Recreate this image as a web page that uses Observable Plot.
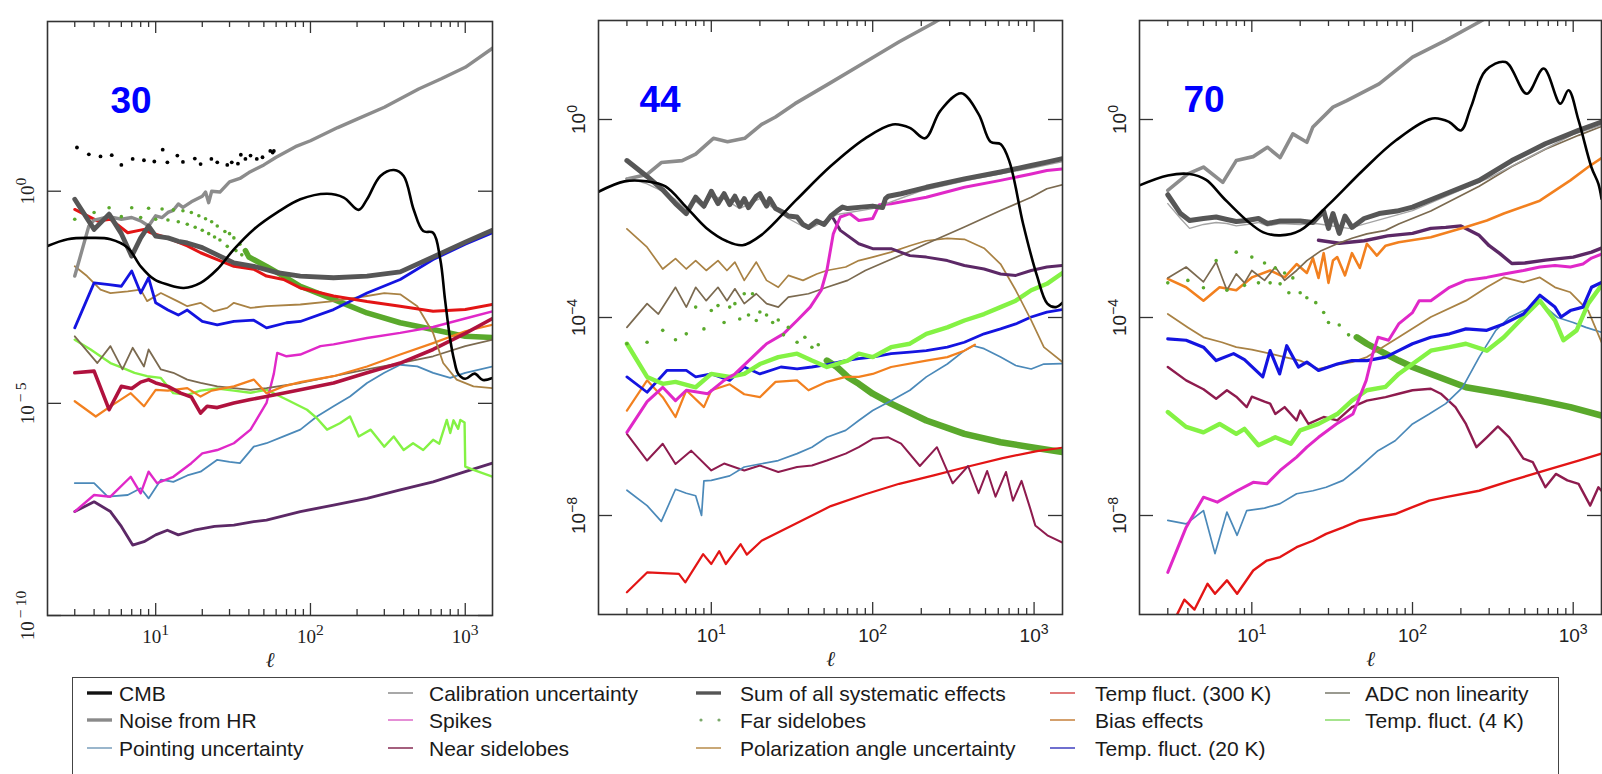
<!DOCTYPE html>
<html>
<head>
<meta charset="utf-8">
<script src="https://cdn.jsdelivr.net/npm/d3@7"></script>
<script src="https://cdn.jsdelivr.net/npm/@observablehq/plot@0.6"></script>
<style>
  html, body { margin: 0; padding: 0; background: #fff; overflow: hidden; }
  #fig { position: relative; width: 1602px; height: 774px; overflow: hidden; font-family: "Liberation Sans", Arial, sans-serif; }
  .panel { position: absolute; top: 0; }
  #legend { position: absolute; left: 72px; top: 677px; width: 1487px; height: 130px; border: 1.6px solid #444; box-sizing: border-box; background: #fff; }
  .item { position: absolute; font-size: 21px; color: #1a1a1a; white-space: nowrap; line-height: 1; transform: translateY(-50%); }
  .sw { position: absolute; transform: translateY(-50%); }
</style>
</head>
<body>
<div id="fig"></div>
<script>
// ---- Multipole axis ticks -------------------------------------------------
const majorL = [10, 100, 1000];
const minorL = [3, 4, 5, 6, 7, 8, 9, 20, 30, 40, 50, 60, 70, 80, 90, 200, 300, 400, 500, 600, 700, 800, 900];

// ---- Frequency channels (GHz) --------------------------------------------
const bands = ["30", "44", "70"];

// Power spectra: [multipole ℓ, log10 of power]
// ===== 30 GHz =====
const cmb30 = [[2,-1.29],[2.7,-1.13],[3.8,-1.10],[5.1,-1.13],[6.6,-1.33],[8,-1.77],[9.8,-2.08],[11.9,-2.2],[15.2,-2.28],[19.5,-2.16],[25,-1.84],[32,-1.37],[43,-0.9],[61,-0.5],[86,-0.19],[128,-0.06],[164,-0.15],[205,-0.44],[232,-0.19],[283,0.36],[346,0.5],[400,0.36],[464,-0.43],[535,-0.94],[620,-0.98],[690,-1.61],[740,-2.55],[800,-3.5],[850,-4.0],[900,-4.3],[1000,-4.42],[1150,-4.3],[1300,-4.45],[1500,-4.4]];
const noise30 = [[3,-2.0],[3.7,-0.82],[4,-0.68],[5,-0.6],[6,-0.66],[7,-0.62],[8,-0.7],[9,-0.82],[10,-0.58],[11,-0.62],[12,-0.5],[13,-0.45],[14,-0.3],[15,-0.38],[17,-0.25],[20,-0.12],[21,-0.02],[22,-0.27],[23,0.0],[26,-0.02],[30,0.22],[35,0.3],[40,0.44],[50,0.62],[60,0.8],[80,1.05],[100,1.19],[150,1.5],[200,1.7],[300,1.98],[500,2.41],[700,2.65],[1000,2.92],[1500,3.37]];
const sum30 = [[3,-0.19],[4,-0.9],[5,-0.54],[6,-1.0],[7,-1.53],[8,-1.1],[9,-0.82],[10,-1.06],[12,-1.1],[14,-1.18],[16,-1.22],[20,-1.33],[25,-1.5],[32,-1.69],[43,-1.77],[61,-1.92],[86,-2.0],[141,-2.04],[232,-2.0],[380,-1.9],[620,-1.55],[1000,-1.2],[1500,-0.92]];
const temp300_30 = [[3,-0.43],[4.2,-0.7],[5.1,-0.66],[6.6,-0.98],[8.4,-0.9],[9.3,-0.98],[11.9,-1.1],[16,-1.29],[19.5,-1.45],[25,-1.61],[32,-1.77],[43,-1.84],[52,-2.0],[67,-2.08],[86,-2.28],[141,-2.47],[232,-2.6],[380,-2.71],[620,-2.83],[1000,-2.79],[1500,-2.67]];
const temp20_30 = [[3,-3.22],[4,-2.16],[5,-2.2],[6,-2.24],[7,-1.88],[8,-2.4],[9,-2.04],[10,-2.63],[12,-2.8],[14,-2.92],[16,-2.8],[20,-3.07],[25,-3.15],[32,-3.07],[43,-3.04],[52,-3.22],[70,-3.1],[86,-3.07],[141,-2.79],[232,-2.4],[380,-2.08],[620,-1.61],[1000,-1.25],[1500,-0.98]];
const polar30 = [[3,-1.77],[3.6,-2.0],[4.4,-2.32],[5.1,-2.4],[6.6,-2.36],[8,-2.32],[8.8,-2.59],[10.8,-2.4],[13.8,-2.59],[16,-2.71],[19.5,-2.63],[23.7,-2.83],[29,-2.75],[32,-2.63],[41,-2.75],[52,-2.71],[86,-2.67],[141,-2.59],[232,-2.47],[300,-2.4],[380,-2.43],[490,-2.71],[620,-3.34],[720,-4.05],[880,-4.44],[1130,-4.6],[1500,-4.64]];
const far30 = [[3,-0.66],[4,-0.5],[5,-0.39],[6,-0.6],[7,-0.39],[8,-0.62],[9,-0.4],[10,-0.66],[11,-0.42],[12,-0.68],[13,-0.44],[14,-0.72],[15,-0.46],[16,-0.78],[17,-0.5],[18,-0.85],[19,-0.58],[20,-0.92],[21,-0.65],[22,-1.0],[23,-0.72],[24,-1.08],[25,-0.82],[26,-1.15],[28,-0.95],[29,-1.3],[30,-1.0],[32,-1.1],[33,-1.4],[35,-1.25],[36,-1.5],[38,-1.4],[40,-1.55],[45,-1.65],[52,-1.77],[67,-2.0],[86,-2.24],[141,-2.55],[232,-2.87],[380,-3.1],[620,-3.26],[1000,-3.42],[1500,-3.45]];
const binned30 = [[3.1,1.03],[3.7,0.87],[4.4,0.82],[5.2,0.85],[6,0.62],[7.1,0.76],[8.4,0.73],[9.8,0.70],[11.1,0.98],[11.9,0.68],[13.8,0.84],[15,0.69],[17.9,0.77],[19.5,0.64],[22.9,0.76],[25,0.68],[29,0.62],[31,0.68],[34,0.65],[35.5,0.86],[38,0.76],[41,0.84],[45,0.76],[49,0.8],[55,0.95],[57,0.91],[58,0.95]];
const spikes30 = [[3,-7.55],[4,-7.16],[5.1,-7.2],[6.9,-6.73],[8,-7.12],[9,-6.61],[10.2,-6.88],[13,-6.73],[17,-6.41],[20,-6.18],[25,-6.1],[32,-5.94],[41,-5.62],[52,-4.99],[58,-4.3],[61,-3.81],[70,-3.89],[86,-3.85],[116,-3.65],[141,-3.61],[232,-3.46],[380,-3.34],[620,-3.2],[1000,-3.0],[1500,-2.83]];
const near30 = [[3,-4.28],[4,-4.24],[5,-5.15],[6,-4.6],[7,-4.65],[8,-4.5],[9,-4.44],[10,-4.52],[12,-4.6],[14.5,-4.76],[17,-4.85],[19.5,-5.23],[21.5,-5.07],[25,-5.1],[32,-4.99],[41,-4.91],[52,-4.84],[86,-4.68],[141,-4.52],[232,-4.28],[380,-4.05],[620,-3.73],[1000,-3.35],[1500,-3.0]];
const bias30 = [[3,-4.95],[4.1,-5.31],[5.1,-5.07],[6.9,-4.76],[8.4,-5.07],[10,-4.68],[12,-4.7],[16,-4.64],[19.5,-4.84],[23,-4.7],[32,-4.6],[43,-4.44],[52,-4.76],[67,-4.6],[86,-4.5],[141,-4.36],[232,-4.13],[380,-3.85],[620,-3.58],[1000,-3.3],[1500,-3.15]];
const adc30 = [[3,-3.42],[4.2,-4.05],[5.1,-3.65],[6.1,-4.2],[7.1,-3.69],[8.4,-4.13],[9,-3.73],[10.8,-4.2],[13,-4.28],[16,-4.44],[19.5,-4.52],[25,-4.6],[32,-4.64],[41,-4.68],[52,-4.64],[86,-4.52],[141,-4.36],[232,-4.2],[380,-4.05],[620,-3.89],[1000,-3.65],[1500,-3.5]];
const temp4_30 = [[3,-3.5],[3.8,-3.73],[4.4,-3.89],[5.1,-4.05],[6,-4.15],[7.3,-4.28],[8.8,-4.36],[10.8,-4.4],[13,-4.76],[16,-4.8],[19.5,-4.7],[25,-4.65],[32,-4.7],[41,-4.75],[52,-4.68],[70,-4.91],[95,-5.15],[110,-5.35],[128,-5.62],[155,-5.47],[180,-5.31],[205,-5.78],[245,-5.62],[300,-6.02],[345,-5.78],[400,-6.1],[460,-5.94],[535,-6.1],[620,-5.86],[680,-5.95],[760,-5.39],[800,-5.7],[840,-5.4],[900,-5.6],[930,-5.39],[990,-5.45],[1000,-6.49],[1130,-6.57],[1500,-6.73]];
const point30 = [[3,-6.88],[4,-6.88],[4.9,-7.2],[6.6,-7.16],[8,-7.0],[9,-7.24],[10.8,-6.8],[13,-6.85],[16,-6.7],[19.5,-6.61],[25,-6.33],[30,-6.38],[35,-6.41],[43,-6.02],[52,-5.94],[67,-5.78],[86,-5.62],[110,-5.31],[141,-5.07],[180,-4.84],[232,-4.52],[300,-4.28],[380,-4.09],[490,-4.13],[620,-4.28],[800,-4.4],[1000,-4.28],[1500,-4.13]];
const other30 = [[3,-7.55],[4,-7.32],[5.1,-7.55],[6,-7.9],[7.1,-8.34],[8.4,-8.26],[10,-8.1],[11.9,-7.99],[14,-8.1],[17.7,-7.99],[24,-7.9],[32,-7.87],[43,-7.79],[52,-7.75],[86,-7.55],[141,-7.4],[232,-7.24],[380,-7.04],[620,-6.85],[1000,-6.61],[1500,-6.41]];

// ===== 44 GHz =====
const cmb44 = [[2,-1.46],[2.9,-1.25],[4,-1.25],[5.2,-1.35],[7,-1.77],[9.3,-2.19],[12.5,-2.46],[15.6,-2.54],[20.5,-2.33],[33.5,-1.63],[55,-0.94],[90,-0.38],[133,-0.1],[170,-0.17],[211,-0.38],[263,0.18],[354,0.53],[453,0.11],[537,-0.45],[622,-0.5],[705,-0.86],[857,-2.12],[1043,-3.16],[1208,-3.72],[1365,-3.79],[1500,-3.7]];
const noise44 = [[3,-1.2],[4,-1.11],[4.9,-0.87],[6.6,-0.83],[8,-0.7],[10.3,-0.38],[12.6,-0.45],[16.1,-0.38],[20.5,-0.1],[25,0.05],[33,0.32],[54,0.73],[89,1.15],[146,1.57],[238,1.95],[400,2.4],[800,2.95],[1500,3.5]];
const sum44 = [[3,-0.83],[4,-1.15],[5,-1.42],[6,-1.7],[7,-1.9],[8,-1.57],[9,-1.75],[10,-1.45],[11,-1.7],[12,-1.5],[13,-1.72],[14,-1.55],[15,-1.75],[16,-1.6],[17,-1.78],[19,-1.55],[20,-1.5],[22,-1.75],[23,-1.6],[25,-1.8],[28,-1.88],[30,-1.95],[34,-1.97],[37,-2.12],[40,-2.18],[45,-2.05],[50,-2.12],[55,-1.95],[60,-1.85],[65,-1.77],[70,-1.8],[85,-1.77],[100,-1.75],[115,-1.78],[120,-1.6],[125,-1.55],[150,-1.5],[215,-1.37],[370,-1.2],[620,-1.06],[960,-0.93],[1200,-0.86],[1500,-0.79]];
const calib44 = [[3,-1.18],[4,-1.3],[5,-1.45],[6,-1.62],[7,-1.82],[8,-1.65],[9,-1.8],[10,-1.55],[12,-1.6],[15,-1.8],[20,-1.6],[30,-2.0],[40,-2.22],[60,-1.92],[100,-1.8],[200,-1.44],[400,-1.22],[1000,-0.97],[1500,-0.85]];
const spikes44 = [[3,-6.32],[4,-5.7],[5,-5.41],[6,-5.68],[7,-5.47],[9.5,-5.54],[12,-5.27],[14,-5.14],[18,-4.8],[22,-4.53],[28,-4.33],[34,-4.06],[41,-3.79],[48,-3.45],[52,-3.05],[57,-2.31],[63,-1.97],[72,-1.9],[82,-2.04],[100,-2.0],[110,-1.72],[130,-1.7],[215,-1.57],[370,-1.37],[620,-1.23],[960,-1.1],[1200,-1.03],[1500,-1.0]];
const other44 = [[57,-2.0],[63,-2.24],[82,-2.51],[100,-2.61],[130,-2.61],[170,-2.75],[215,-2.78],[290,-2.85],[370,-2.95],[490,-3.02],[620,-3.12],[770,-3.15],[960,-3.05],[1200,-2.98],[1500,-2.95]];
const polar44 = [[3,-2.21],[4,-2.58],[5,-3.02],[6,-2.81],[7,-3.02],[8,-2.85],[9.3,-3.05],[11,-2.85],[12.5,-3.05],[14,-2.88],[16,-3.25],[19,-2.88],[22,-3.25],[26,-3.39],[30,-3.15],[37,-3.25],[45,-3.12],[52,-3.05],[68,-2.98],[82,-2.85],[100,-2.78],[130,-2.68],[170,-2.55],[215,-2.45],[290,-2.4],[370,-2.42],[490,-2.6],[620,-2.92],[770,-3.45],[960,-4.06],[1150,-4.6],[1500,-4.9]];
const adc44 = [[3,-4.2],[4,-3.72],[4.7,-3.93],[6,-3.39],[7,-3.79],[8,-3.39],[9.3,-3.66],[11,-3.39],[12.5,-3.66],[14,-3.42],[16,-3.72],[19,-3.52],[22,-3.72],[26,-3.79],[30,-3.59],[40,-3.52],[52,-3.39],[70,-3.25],[90,-3.05],[125,-2.85],[165,-2.68],[215,-2.51],[370,-2.17],[620,-1.84],[960,-1.57],[1200,-1.4],[1500,-1.32]];
const far44 = [[3,-4.53],[4,-4.5],[5,-4.26],[6,-4.45],[7,-4.33],[8,-3.79],[9,-4.23],[10,-3.86],[11,-3.76],[12,-4.1],[13,-3.79],[14,-3.72],[15,-4.03],[16,-3.52],[17,-3.95],[18,-3.52],[19,-4.06],[20,-3.89],[22,-3.95],[24,-4.1],[26,-4.05],[28,-4.35],[30,-4.2],[34,-4.5],[38,-4.4],[42,-4.6],[46,-4.55],[52,-4.87],[60,-5.0],[70,-5.2],[82,-5.34],[100,-5.54],[130,-5.74],[215,-6.08],[370,-6.35],[620,-6.52],[960,-6.62],[1500,-6.72]];
const temp4_44 = [[3,-4.53],[4,-5.2],[5,-5.34],[6,-5.3],[8,-5.41],[10,-5.14],[13,-5.2],[16,-5.14],[20,-4.94],[26,-4.8],[34,-4.73],[42,-4.87],[52,-5.0],[70,-4.87],[82,-4.73],[100,-4.8],[130,-4.6],[170,-4.53],[215,-4.33],[290,-4.2],[370,-4.06],[490,-3.93],[620,-3.79],[770,-3.66],[960,-3.45],[1200,-3.32],[1500,-3.1]];
const temp20_44 = [[3,-5.2],[4,-5.51],[5.3,-5.07],[7,-5.07],[8,-5.2],[10,-5.14],[13,-5.27],[16,-5.0],[20,-5.14],[27,-5.0],[34,-5.04],[42,-5.0],[52,-4.95],[68,-4.87],[82,-4.83],[100,-4.8],[130,-4.73],[170,-4.7],[215,-4.67],[290,-4.6],[370,-4.5],[490,-4.33],[620,-4.23],[770,-4.13],[960,-3.99],[1200,-3.89],[1500,-3.84]];
const bias44 = [[3,-5.88],[4,-5.27],[5,-5.61],[6,-6.01],[7,-5.47],[9,-5.81],[10,-5.47],[13,-5.35],[16,-5.55],[20,-5.61],[25,-5.3],[34,-5.27],[40,-5.47],[52,-5.3],[68,-5.2],[82,-5.2],[100,-5.14],[130,-5.0],[215,-4.87],[290,-4.8],[370,-4.67],[430,-4.55]];
const point44 = [[3,-7.49],[4,-7.8],[4.9,-8.12],[6,-7.47],[7,-7.55],[8,-7.6],[8.7,-8.0],[9,-7.3],[10,-7.29],[13,-7.2],[16,-7.02],[20,-6.96],[26,-6.89],[34,-6.75],[42,-6.62],[52,-6.42],[68,-6.28],[82,-6.08],[100,-5.88],[130,-5.68],[170,-5.47],[215,-5.2],[290,-4.94],[370,-4.67],[420,-4.57],[490,-4.63],[620,-4.8],[770,-4.97],[960,-5.04],[1150,-4.94],[1500,-4.93]];
const near44 = [[3,-6.35],[4,-6.89],[5,-6.55],[6,-6.96],[7.5,-6.69],[10,-7.09],[12,-6.95],[16,-7.09],[20,-6.99],[26,-7.12],[34,-7.02],[42,-6.99],[52,-6.89],[68,-6.75],[82,-6.62],[100,-6.45],[125,-6.42],[150,-6.55],[196,-7.0],[250,-6.62],[313,-7.35],[390,-7.0],[453,-7.55],[512,-7.1],[577,-7.62],[670,-7.12],[740,-7.7],[836,-7.3],[945,-7.85],[1017,-8.2],[1208,-8.4],[1500,-8.55]];
const temp300_44 = [[3,-9.55],[4,-9.15],[6.3,-9.18],[6.9,-9.35],[8.9,-8.78],[10,-8.98],[11.2,-8.72],[12.3,-8.98],[15.2,-8.58],[16.6,-8.79],[20.5,-8.51],[33.5,-8.16],[55,-7.81],[90,-7.57],[146,-7.36],[239,-7.19],[391,-7.01],[638,-6.84],[1043,-6.7],[1500,-6.63]];

// ===== 70 GHz =====
const cmb70 = [[2,-1.33],[3,-1.13],[4.1,-1.1],[5.2,-1.22],[6.6,-1.57],[9.3,-2.04],[11.8,-2.28],[15,-2.34],[20,-2.24],[30.5,-1.7],[49,-1.03],[79,-0.42],[133,0.02],[169,-0.05],[200,-0.22],[231,0.25],[285,0.99],[379,1.16],[514,0.52],[655,1.03],[832,0.32],[935,0.59],[1080,-0.02],[1300,-0.97],[1435,-1.3],[1500,-1.6]];
const noise70 = [[3,-1.43],[4,-1.1],[5,-0.96],[6.6,-1.27],[8,-0.83],[10.2,-0.75],[12.5,-0.56],[15,-0.77],[18,-0.29],[22,-0.46],[24,-0.15],[32,0.25],[39,0.38],[62,0.72],[100,1.26],[161,1.6],[260,1.97],[500,2.5],[1500,3.6]];
const sum70 = [[3,-1.52],[3.6,-1.9],[4.1,-2.04],[5,-2.0],[6,-1.97],[7,-2.02],[8,-2.06],[9.3,-2.04],[11,-2.0],[12.5,-2.1],[15,-2.05],[20,-2.05],[24,-2.08],[28,-1.85],[30,-2.2],[32,-1.9],[35,-2.3],[38,-1.95],[42,-2.18],[50,-2.0],[62,-1.9],[80,-1.85],[100,-1.77],[161,-1.5],[260,-1.23],[415,-0.83],[671,-0.49],[1080,-0.22],[1500,-0.05]];
const calib70 = [[3,-1.7],[3.6,-2.0],[4.1,-2.2],[5,-2.12],[6,-2.08],[7,-2.1],[8,-2.15],[9.3,-2.12],[11,-2.08],[12.5,-2.15],[15,-2.1],[20,-2.12],[25,-2.1],[40,-2.2],[100,-1.84],[300,-1.18],[1000,-0.3],[1500,-0.12]];
const adc70 = [[3,-3.2],[3.9,-2.98],[5,-3.28],[6,-2.88],[7,-3.45],[8,-3.12],[9,-3.3],[10,-3.05],[12,-3.25],[14,-2.98],[16,-3.25],[19,-3.05],[22,-2.85],[27,-2.65],[34,-2.51],[42,-2.4],[52,-2.31],[68,-2.24],[82,-2.11],[130,-1.85],[260,-1.35],[415,-0.95],[671,-0.6],[1080,-0.32],[1500,-0.14]];
const bias70 = [[3,-3.22],[3.9,-3.39],[5,-3.66],[6.3,-3.39],[8,-3.45],[10,-3.19],[13,-3.05],[16,-3.19],[19,-2.92],[22,-3.1],[24,-2.8],[26,-3.2],[28,-2.7],[30,-3.3],[32,-2.85],[34,-2.78],[38,-3.15],[42,-2.7],[47,-3.0],[52,-2.51],[60,-2.75],[68,-2.55],[82,-2.48],[130,-2.38],[215,-2.17],[290,-2.04],[370,-1.9],[620,-1.64],[960,-1.23],[1240,-0.96],[1500,-0.78]];
const polar70 = [[3,-3.93],[4,-4.2],[5,-4.4],[6.5,-4.5],[8,-4.6],[10,-4.65],[13,-4.73],[16,-4.8],[20,-4.87],[26,-5.04],[34,-4.95],[42,-4.9],[52,-4.8],[82,-4.4],[130,-3.99],[215,-3.66],[290,-3.39],[370,-3.19],[490,-3.29],[620,-3.19],[770,-3.39],[960,-3.49],[1240,-3.86],[1500,-4.5]];
const other70 = [[26,-2.44],[35,-2.5],[50,-2.45],[70,-2.35],[100,-2.3],[130,-2.2],[161,-2.18],[200,-2.15],[260,-2.34],[300,-2.55],[350,-2.71],[415,-2.91],[500,-2.9],[671,-2.84],[1000,-2.78],[1300,-2.68],[1500,-2.6]];
const spikes70 = [[3,-9.15],[3.9,-8.24],[5,-7.63],[6.1,-7.73],[8.1,-7.5],[10.2,-7.33],[12.4,-7.36],[15,-7.09],[19,-6.82],[22,-6.62],[26,-6.42],[33.6,-6.15],[42.6,-5.95],[51.5,-5.27],[56.6,-4.73],[61,-4.4],[71,-4.46],[82,-4.13],[100,-3.9],[110,-3.66],[130,-3.66],[170,-3.39],[215,-3.25],[290,-3.19],[370,-3.12],[490,-3.05],[620,-2.98],[770,-2.95],[960,-2.98],[1150,-2.92],[1300,-2.8],[1500,-2.72]];
const temp20_70 = [[3,-4.43],[3.9,-4.46],[5,-4.6],[6,-4.87],[7.7,-4.73],[9,-4.85],[11.7,-5.2],[13,-4.67],[14.9,-5.14],[16.5,-4.57],[19.5,-5.0],[22,-4.9],[26,-5.07],[34,-4.94],[42,-4.87],[52,-4.87],[68,-4.8],[82,-4.67],[100,-4.53],[130,-4.4],[170,-4.33],[215,-4.23],[290,-4.26],[370,-4.13],[490,-3.93],[620,-3.55],[770,-3.79],[840,-3.99],[960,-3.86],[1150,-3.79],[1300,-3.39],[1500,-3.29]];
const temp4_70 = [[3,-5.91],[3.9,-6.21],[5,-6.32],[6.3,-6.15],[8,-6.35],[9,-6.25],[11,-6.58],[14,-6.42],[17.5,-6.55],[20,-6.28],[26,-6.15],[34,-5.95],[42,-5.68],[52,-5.47],[68,-5.4],[82,-5.14],[100,-4.94],[130,-4.67],[170,-4.6],[215,-4.53],[290,-4.67],[370,-4.4],[490,-3.99],[620,-3.66],[770,-4.06],[870,-4.46],[1050,-4.26],[1240,-3.72],[1500,-3.35]];
const point70 = [[3,-8.1],[3.9,-8.17],[5,-7.9],[5.9,-8.77],[7,-7.93],[8.1,-8.4],[9.3,-7.9],[12,-7.85],[15,-7.76],[19,-7.56],[24,-7.5],[29,-7.43],[37,-7.29],[47,-7.02],[61,-6.69],[78,-6.49],[100,-6.15],[127,-5.95],[161,-5.74],[205,-5.41],[260,-4.8],[330,-4.26],[400,-4.0],[620,-3.7],[800,-4.0],[1000,-4.1],[1200,-4.2],[1500,-4.3]];
const near70 = [[3,-5.0],[3.9,-5.27],[5,-5.45],[6,-5.64],[7,-5.47],[8,-5.6],[9.3,-5.81],[10,-5.6],[12,-5.7],[13,-5.74],[14,-5.95],[16,-5.81],[19,-6.08],[20,-5.88],[22.5,-6.15],[28,-6.01],[34,-6.08],[42,-5.81],[52,-5.68],[68,-5.61],[82,-5.54],[100,-5.47],[130,-5.44],[150,-5.54],[185,-5.81],[215,-6.15],[250,-6.62],[290,-6.42],[340,-6.2],[400,-6.42],[490,-6.85],[560,-6.92],[671,-7.43],[780,-7.16],[920,-7.29],[1080,-7.36],[1276,-7.8],[1435,-7.43],[1500,-7.5]];
const temp300_70 = [[3.2,-10.2],[3.8,-9.7],[4.4,-9.9],[5.3,-9.38],[5.9,-9.58],[7,-9.31],[8.1,-9.58],[10.2,-9.11],[12.4,-8.91],[15,-8.84],[19,-8.64],[24,-8.51],[29,-8.37],[37,-8.24],[47,-8.1],[61,-8.03],[78,-7.97],[100,-7.83],[127,-7.7],[161,-7.63],[260,-7.5],[415,-7.29],[671,-7.09],[1080,-6.89],[1500,-6.75]];
const far70 = [[3,-3.3],[4,-3.25],[5,-3.4],[6,-2.85],[7,-3.45],[8,-2.68],[9,-3.35],[10,-2.78],[11,-3.3],[12,-2.9],[13,-3.3],[14,-3.0],[15,-3.32],[16,-3.1],[17,-3.5],[18,-3.2],[20,-3.5],[22,-3.6],[25,-3.7],[28,-3.9],[30,-4.1],[35,-4.15],[40,-4.35],[45,-4.4],[52,-4.53],[65,-4.7],[82,-4.87],[100,-5.0],[130,-5.14],[215,-5.41],[370,-5.54],[620,-5.68],[960,-5.81],[1500,-5.98]];

// ---- Legend ----------------------------------------------------------------
const legendNames = ["CMB", "Noise from HR", "Pointing uncertainty",
  "Calibration uncertainty", "Spikes", "Near sidelobes",
  "Sum of all systematic effects", "Far sidelobes", "Polarization angle uncertainty",
  "Temp fluct. (300 K)", "Bias effects", "Temp. fluct. (20 K)",
  "ADC non linearity", "Temp. fluct. (4 K)"];
const legendColors = ["#111", "#8a8a8a", "#9ab6cc", "#a8a8a8", "#e58fd6", "#a4607e",
  "#555", "#7aa86a", "#c9a877", "#e07a7a", "#d4a06c", "#6f6fcf", "#9a9a90", "#a6e48e"];

// ---- Styling of the plotted curves ----------------------------------------
const C = {
  cmb: "#000000", noise: "#8c8c8c", sum: "#565656", calib: "#a4a4a4",
  spikes: "#e028c8", near: "#8e1b4e", near30: "#b0123e", other: "#5c2866",
  polar: "#a98244", adc: "#7b6a50", bias: "#f2801f", t300: "#e31515",
  t20: "#1414e0", t4: "#84f244", far: "#5aa92c", point: "#4b89b9"
};

const pts = arr => arr.map(([l, e]) => ({l, v: Math.pow(10, e)}));

const panels = [
  {
    band: bands[0], left: 0, width: 500, mL: 47, mR: 8, mT: 21, mB: 49,
    yDomain: [1e-10, 1e4], yTicks: [1, 1e-5, 1e-10], yText: ["10|0", "10|\u2009\u2212\u20095", "10|\u2009\u2212\u200910"],
    font: "Liberation Serif", tickFont: 19, expScale: 0.82, numDx: 63,
    farDots: 40, farBand: 38, farW: 5.5,
    lines: [
      [other30, C.other, 2.8], [point30, C.point, 1.8], [temp4_30, C.t4, 2.4], [spikes30, C.spikes, 2.4],
      [adc30, C.adc, 1.8], [bias30, C.bias, 2.2], [near30, C.near30, 3.6], [polar30, C.polar, 1.8],
      [temp20_30, C.t20, 2.8], [temp300_30, C.t300, 3], [noise30, C.noise, 3.4], [sum30, C.sum, 4.8]
    ],
    far: far30, cmb: cmb30, extraDots: binned30
  },
  {
    band: bands[1], left: 540, width: 530, mL: 58, mR: 8, mT: 20, mB: 50,
    yDomain: [1e-10, 1e2], yTicks: [1, 1e-4, 1e-8], yText: ["10|0", "10|\u22124", "10|\u22128"],
    font: "Liberation Sans", tickFont: 19, expScale: 0.74, numDx: 41,
    farDots: 55, farBand: 52, farW: 6.5,
    lines: [
      [temp300_44, C.t300, 2.2], [near44, C.near, 2], [point44, C.point, 1.7], [bias44, C.bias, 2.2],
      [temp20_44, C.t20, 2.8], [temp4_44, C.t4, 4.4], [polar44, C.polar, 1.7], [adc44, C.adc, 1.7],
      [other44, C.other, 3], [spikes44, C.spikes, 3], [noise44, C.noise, 3.6], [calib44, C.calib, 1.4], [sum44, C.sum, 5]
    ],
    far: far44, cmb: cmb44
  },
  {
    band: bands[2], left: 1080, width: 522, mL: 59, mR: 1, mT: 20, mB: 50,
    yDomain: [1e-10, 1e2], yTicks: [1, 1e-4, 1e-8], yText: ["10|0", "10|\u22124", "10|\u22128"],
    font: "Liberation Sans", tickFont: 19, expScale: 0.74, numDx: 44,
    farDots: 50, farBand: 45, farW: 6.5,
    lines: [
      [temp300_70, C.t300, 2.4], [near70, C.near, 2.4], [point70, C.point, 1.7], [polar70, C.polar, 1.8],
      [temp4_70, C.t4, 4.4], [temp20_70, C.t20, 3.2], [spikes70, C.spikes, 3], [other70, C.other, 3.4],
      [bias70, C.bias, 2.6], [adc70, C.adc, 1.7], [noise70, C.noise, 3.6], [calib70, C.calib, 1.4], [sum70, C.sum, 5]
    ],
    far: far70, cmb: cmb70
  }
];

const fig = document.getElementById("fig");
const H = 664;

// Turn "base|exponent" tick labels into a base with a raised exponent.
function superscripts(svg, scale) {
  svg.querySelectorAll("text").forEach(t => {
    if (t.children.length || !t.textContent.includes("|")) return;
    const parts = t.textContent.split("|");
    const fs = parseFloat(getComputedStyle(t).fontSize) || 19;
    t.textContent = parts[0];
    const ts = document.createElementNS("http://www.w3.org/2000/svg", "tspan");
    ts.setAttribute("dy", (-0.42 * fs).toFixed(1));
    ts.setAttribute("font-size", (scale * fs).toFixed(1));
    ts.textContent = parts[1];
    t.appendChild(ts);
  });
}

for (const p of panels) {
  const fw = p.width - p.mL - p.mR;
  const fh = H - p.mT - p.mB;
  const farPts = pts(p.far);
  const marks = [];
  marks.push(Plot.line(farPts.filter(d => d.l >= p.farBand), {x: "l", y: "v", stroke: C.far, strokeWidth: p.farW, clip: true}));
  for (const [arr, color, w] of p.lines) {
    marks.push(Plot.line(pts(arr), {x: "l", y: "v", stroke: color, strokeWidth: w, strokeLinejoin: "round", clip: true}));
  }
  marks.push(Plot.dot(farPts.filter(d => d.l <= p.farDots), {x: "l", y: "v", r: 1.8, fill: C.far, stroke: null, clip: true}));
  if (p.extraDots) marks.push(Plot.dot(pts(p.extraDots), {x: "l", y: "v", r: 1.9, fill: "#000", stroke: null, clip: true}));
  marks.push(Plot.line(pts(p.cmb), {x: "l", y: "v", stroke: C.cmb, strokeWidth: 2.6, curve: "catmull-rom", clip: true}));

  // inward ticks on all four sides
  const tk = {stroke: "#333", strokeWidth: 1.3};
  marks.push(
    Plot.tickX(majorL, {x: d => d, insetTop: fh - 12, ...tk}),
    Plot.tickX(minorL, {x: d => d, insetTop: fh - 6, ...tk}),
    Plot.tickX(majorL, {x: d => d, insetBottom: fh - 12, ...tk}),
    Plot.tickX(minorL, {x: d => d, insetBottom: fh - 6, ...tk}),
    Plot.tickY(p.yTicks, {y: d => d, insetRight: fw - 14, ...tk}),
    Plot.tickY(p.yTicks, {y: d => d, insetLeft: fw - 14, ...tk}),
    Plot.frame({stroke: "#333", strokeWidth: 1.6})
  );

  // tick labels, axis label and channel number
  marks.push(
    Plot.text(majorL, {x: d => d, text: d => "10|" + Math.round(Math.log10(d)), frameAnchor: "bottom", dy: 21,
      fontFamily: p.font, fontSize: p.tickFont, fill: "#222", lineAnchor: "middle"}),
    Plot.text(p.yTicks, {y: d => d, text: (d, i) => p.yText[i], frameAnchor: "left", dx: -20, rotate: -90,
      fontFamily: p.font, fontSize: p.tickFont, fill: "#222", lineAnchor: "middle", textAnchor: "middle"}),
    Plot.text(["\u2113"], {frameAnchor: "bottom", dy: 45, text: d => d, fontFamily: "DejaVu Serif", fontStyle: "italic",
      fontSize: 21, fill: "#222", lineAnchor: "middle"}),
    Plot.text([p.band], {frameAnchor: "top-left", dx: p.numDx, dy: 91, text: d => d, fill: "#0000ff",
      fontFamily: "Liberation Sans", fontWeight: "bold", fontSize: 37, textAnchor: "start", lineAnchor: "bottom"})
  );

  const svg = Plot.plot({
    width: p.width, height: H,
    marginLeft: p.mL, marginRight: p.mR, marginTop: p.mT, marginBottom: p.mB,
    x: {type: "log", domain: [2, 1500], axis: null},
    y: {type: "log", domain: p.yDomain, axis: null},
    style: {background: "transparent", overflow: "visible"},
    marks
  });
  svg.classList.add("panel");
  svg.style.left = p.left + "px";
  fig.appendChild(svg);
  superscripts(svg, p.expScale);
}

// Legend box: three rows, five columns
const legend = document.createElement("div");
legend.id = "legend";
fig.appendChild(legend);
const colText = [46, 356, 667, 1022, 1292];
const colSw = [13, 314, 622, 976, 1251];
const rowY = [15, 42, 70];
legendNames.forEach((name, i) => {
  const col = Math.floor(i / 3), row = i % 3;
  const color = legendColors[i];
  const sw = document.createElementNS("http://www.w3.org/2000/svg", "svg");
  sw.setAttribute("width", 30); sw.setAttribute("height", 10);
  sw.classList.add("sw");
  sw.style.left = colSw[col] + "px"; sw.style.top = rowY[row] + "px";
  if (name === "Far sidelobes") {
    for (const cx of [6, 24]) {
      const c = document.createElementNS("http://www.w3.org/2000/svg", "circle");
      c.setAttribute("cx", cx); c.setAttribute("cy", 5); c.setAttribute("r", 1.6); c.setAttribute("fill", color);
      sw.appendChild(c);
    }
  } else {
    const thick = ["CMB", "Noise from HR", "Sum of all systematic effects"].includes(name);
    const ln = document.createElementNS("http://www.w3.org/2000/svg", "line");
    ln.setAttribute("x1", 1); ln.setAttribute("x2", 26); ln.setAttribute("y1", 5); ln.setAttribute("y2", 5);
    ln.setAttribute("stroke", color); ln.setAttribute("stroke-width", thick ? 3.4 : 2);
    sw.appendChild(ln);
  }
  legend.appendChild(sw);
  const t = document.createElement("div");
  t.className = "item";
  t.textContent = name;
  t.style.left = colText[col] + "px"; t.style.top = rowY[row] + "px";
  legend.appendChild(t);
});
</script>
</body>
</html>
